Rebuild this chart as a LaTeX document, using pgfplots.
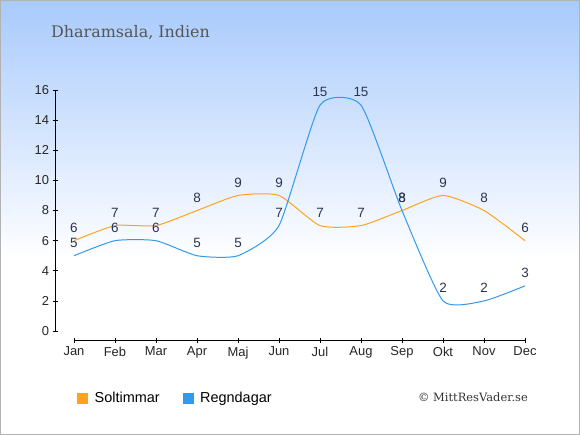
\documentclass[border=0pt]{standalone}
\usepackage{fontspec}
\setmainfont{Liberation Sans}
\newfontfamily\seriffont{DejaVu Serif}
\usepackage{pgfplots}
\pgfplotsset{compat=1.18}
\definecolor{sol}{RGB}{255,163,26}
\definecolor{regn}{RGB}{51,153,235}
\definecolor{lbl}{RGB}{43,52,80}
\definecolor{bgtop}{RGB}{168,202,252}
\definecolor{ttl}{RGB}{85,85,85}
\begin{document}
\begin{tikzpicture}
\shade[top color=bgtop, bottom color=white] (0,175bp) rectangle (580bp,435bp);
\fill[white] (0,0) rectangle (580bp,175bp);
\draw[black!30, line width=1bp] (0.5bp,0.5bp) rectangle (579.5bp,434.5bp);
\node[anchor=base west, inner sep=0pt, text=ttl, font=\seriffont\fontsize{16}{19}\selectfont] at (51bp,397bp) {Dharamsala, Indien};
\node[anchor=base east, inner sep=0pt, text=black!80, font=\seriffont\fontsize{11.5}{14}\selectfont] at (528bp,33.3bp) {© MittResVader.se};
\begin{axis}[
  at={(55bp,94.3bp)}, anchor=south west,
  scale only axis, width=470bp, height=250.7bp,
  xmin=-0.463, xmax=11, ymin=-0.64, ymax=16,
  axis line style={draw=none},
  tick pos=left, tick align=center, major tick length=5bp,
  tick style={black, line width=0.8bp},
  xtick={0,...,11},
  xticklabels={Jan,Feb,Mar,Apr,Maj,Jun,Jul,Aug,Sep,Okt,Nov,Dec},
  ytick={0,2,...,16},
  tick label style={font=\fontsize{13}{15}\selectfont, text=black!85},
  /pgf/number format/assume math mode=true,
  clip=false,
  nodes near coords,
  every node near coord/.append style={font=\fontsize{13.5}{16}\selectfont, text=lbl, anchor=center, yshift=13bp},
  legend columns=2,
  legend cell align=left,
  legend image code/.code={\fill[#1] (0bp,-5bp) rectangle (10bp,5bp); \path[draw=none,fill=none] (0bp,0bp) rectangle (15bp,0bp);},
  legend style={at={(0.0468,-0.2286)}, anchor=west, draw=none, fill=none, inner sep=0pt,
    font=\fontsize{14.5}{17}\selectfont,
    /tikz/every even column/.append style={column sep=21bp}},
]
\draw[black, line width=0.8bp] (axis cs:-0.463,0) -- (axis cs:-0.463,16);
\draw[black, line width=0.8bp] (axis cs:0,-0.64) -- (axis cs:11,-0.64);
\addplot[color=sol, line width=1bp, smooth, tension=0.35, mark=none] coordinates {
(0,6) (1,7) (2,7) (3,8) (4,9) (5,9) (6,7) (7,7) (8,8) (9,9) (10,8) (11,6)};
\addlegendentry{Soltimmar}
\addplot[color=regn, line width=1bp, smooth, tension=0.33, mark=none] coordinates {
(0,5) (1,6) (2,6) (3,5) (4,5) (5,7) (6,15) (7,15) (8,8) (9,2) (10,2) (11,3)};
\addlegendentry{Regndagar}
\end{axis}
\pgfresetboundingbox
\useasboundingbox (0,0) rectangle (580bp,435bp);
\end{tikzpicture}
\end{document}
